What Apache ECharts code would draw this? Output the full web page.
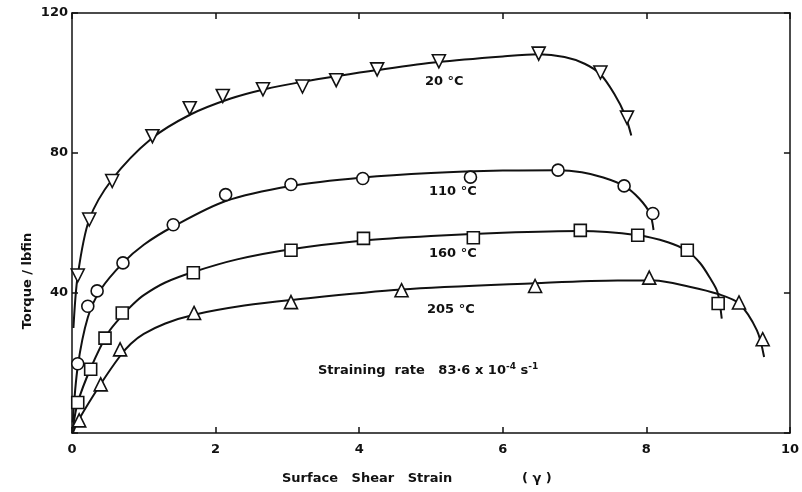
<!DOCTYPE html>
<html>
<head>
<meta charset="utf-8">
<script src="https://cdn.jsdelivr.net/npm/echarts@6/dist/echarts.min.js"></script>
<style>
  html, body { margin: 0; padding: 0; background: #fff; }
  #chart { width: 802px; height: 492px; }
</style>
</head>
<body>
<div id="chart"></div>
<script>
// measured points (strain, torque)
const pts20 = [[0.08, 45], [0.24, 61], [0.56, 72], [1.12, 84.8], [1.64, 92.8], [2.1, 96.3], [2.66, 98.2], [3.21, 99], [3.68, 100.8], [4.25, 103.9], [5.11, 106.2], [6.5, 108.4], [7.36, 103], [7.73, 90.1]];
const pts110 = [[0.08, 19.8], [0.22, 36.2], [0.35, 40.6], [0.71, 48.6], [1.41, 59.5], [2.14, 68.1], [3.05, 71], [4.05, 72.7], [5.55, 73.1], [6.77, 75.1], [7.69, 70.6], [8.09, 62.7]];
const pts160 = [[0.08, 8.7], [0.26, 18.2], [0.46, 27.1], [0.7, 34.3], [1.69, 45.8], [3.05, 52.2], [4.06, 55.6], [5.59, 55.8], [7.08, 57.9], [7.88, 56.5], [8.57, 52.2], [9.0, 37]];
const pts205 = [[0.1, 3.6], [0.4, 13.9], [0.67, 23.9], [1.7, 34.3], [3.05, 37.4], [4.59, 40.8], [6.45, 42], [8.04, 44.4], [9.29, 37.3], [9.62, 26.8]];

// fitted curves as drawn in the figure
const fit20 = [[0.02, 30], [0.08, 45], [0.24, 61], [0.56, 72.5], [1.1, 84], [1.65, 91], [2.2, 95.5], [2.7, 98.3], [3.2, 100.3], [3.7, 102], [4.25, 103.7], [5.1, 106], [6.0, 107.6], [6.5, 108.2], [6.86, 107.4], [7.14, 105.5], [7.36, 102.5], [7.55, 97], [7.7, 91], [7.79, 85]];
const fit110 = [[0.01, 3], [0.08, 19], [0.22, 33], [0.4, 41], [0.71, 48.6], [1.0, 53.8], [1.41, 59], [2.14, 66.3], [3.05, 70.6], [4.05, 73], [5.0, 74.3], [6.0, 75], [6.77, 75.1], [7.1, 74.5], [7.4, 73], [7.69, 70.6], [7.9, 67], [8.05, 62.7], [8.1, 58]];
const fit160 = [[0.01, 1], [0.08, 8.7], [0.26, 18.5], [0.5, 28.5], [0.7, 33.6], [0.85, 36.8], [1.0, 39.4], [1.3, 43], [1.69, 46], [2.3, 49.6], [3.05, 52.5], [4.06, 55], [5.0, 56.3], [6.0, 57.2], [7.08, 57.7], [7.88, 56.5], [8.3, 54.5], [8.57, 52], [8.75, 48.5], [8.88, 44.5], [8.99, 40.3], [9.05, 32.7]];
const fit205 = [[0.01, 0], [0.1, 4], [0.4, 14], [0.67, 22], [0.82, 25.5], [1.0, 28.3], [1.3, 31.3], [1.7, 33.8], [2.4, 36.4], [3.05, 38], [4.59, 41], [6.45, 42.8], [7.6, 43.6], [8.11, 43.6], [8.6, 41.8], [9.0, 39.7], [9.29, 37], [9.54, 29.3], [9.64, 21.7]];

const xTicks = [0, 2, 4, 6, 8, 10];
const yTicks = [0, 40, 80, 120];

const font = 'DejaVu Sans';
const chart = echarts.init(document.getElementById('chart'));

function axisBase(show) {
  return {
    axisLine: { show: true, onZero: false, lineStyle: { color: '#111', width: 1.5 } },
    axisTick: { show: true, inside: true, length: 6, lineStyle: { color: '#111', width: 1.5 } },
    splitLine: { show: false },
    axisLabel: { show: show, color: '#111', fontFamily: font, fontWeight: 'bold', fontSize: 13 }
  };
}

function curve(data) {
  return {
    type: 'line', data: data, smooth: 0.3, showSymbol: false, symbol: 'none',
    lineStyle: { color: '#111', width: 2 }, z: 2, silent: true
  };
}
function marks(data, symbol, rotate, size) {
  return {
    type: 'scatter', data: data, symbol: symbol, symbolRotate: rotate, symbolSize: size,
    itemStyle: { color: '#fff', borderColor: '#111', borderWidth: 1.6, opacity: 1 }, z: 3
  };
}

const labelStyle = { fontFamily: font, fontWeight: 'bold', fontSize: 13, fill: '#111' };

chart.setOption({
  backgroundColor: '#fff',
  animation: false,
  grid: { left: 72, right: 9, top: 13, bottom: 59 },
  xAxis: [
    Object.assign(axisBase(true), { type: 'value', position: 'bottom', min: xTicks[0], max: xTicks[xTicks.length - 1], interval: 2, axisLabel: Object.assign(axisBase(true).axisLabel, { margin: 10 }) }),
    Object.assign(axisBase(false), { type: 'value', position: 'top', min: 0, max: 10, interval: 2 })
  ],
  yAxis: [
    Object.assign(axisBase(true), { type: 'value', position: 'left', min: yTicks[0], max: yTicks[yTicks.length - 1], interval: 40,
      axisLabel: Object.assign(axisBase(true).axisLabel, { margin: 4, formatter: v => v === 0 ? '' : String(v) }) }),
    Object.assign(axisBase(false), { type: 'value', position: 'right', min: 0, max: 120, interval: 40 })
  ],
  series: [
    curve(fit20), curve(fit110), curve(fit160), curve(fit205),
    marks(pts20, 'triangle', 180, 13),
    marks(pts110, 'circle', 0, 12),
    marks(pts160, 'rect', 0, 12),
    marks(pts205, 'triangle', 0, 13)
  ],
  graphic: [
    { type: 'text', left: 425, top: 75, style: Object.assign({ text: '20 °C' }, labelStyle) },
    { type: 'text', left: 429, top: 185, style: Object.assign({ text: '110 °C' }, labelStyle) },
    { type: 'text', left: 429, top: 247, style: Object.assign({ text: '160 °C' }, labelStyle) },
    { type: 'text', left: 427, top: 303, style: Object.assign({ text: '205 °C' }, labelStyle) },
    { type: 'text', left: 318, top: 362, style: Object.assign({
        text: 'Straining  rate   83·6 x 10{sup|-4} s{sup|-1}',
        rich: { sup: { fontFamily: font, fontWeight: 'bold', fontSize: 9, padding: [0, 0, 9, 0] } }
      }, labelStyle) },
    { type: 'text', left: 282, top: 472, style: Object.assign({ text: 'Surface   Shear   Strain' }, labelStyle) },
    { type: 'text', left: 522, top: 472, style: Object.assign({ text: '( γ )' }, labelStyle) },
    { type: 'text', x: 28, y: 281, rotation: Math.PI / 2, style: Object.assign({ text: 'Torque / lbfin', align: 'center', verticalAlign: 'middle' }, labelStyle) }
  ]
});
</script>
</body>
</html>
